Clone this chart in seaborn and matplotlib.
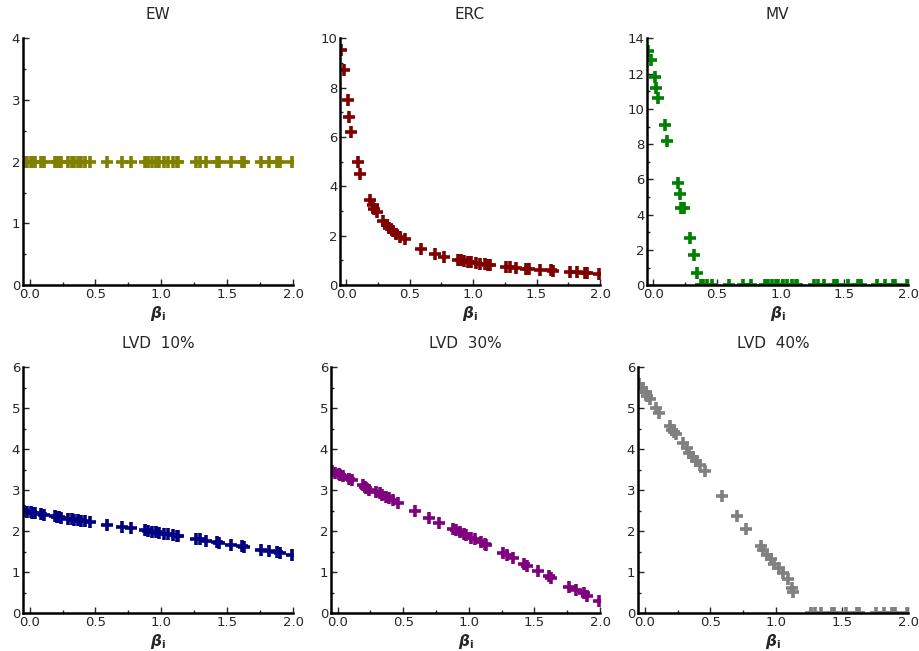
import numpy as np
import pandas as pd
import seaborn as sns
import matplotlib.pyplot as plt
from matplotlib.ticker import MultipleLocator

# betas of the assets (shared by every panel)
beta = [-0.04, -0.02, 0.01, 0.02, 0.04, 0.09, 0.11, 0.19, 0.21, 0.22, 0.24,
        0.29, 0.32, 0.34, 0.37, 0.39, 0.42, 0.46, 0.59, 0.70, 0.77, 0.88,
        0.90, 0.93, 0.96, 0.98, 1.02, 1.05, 1.09, 1.12, 1.13, 1.26, 1.29,
        1.34, 1.42, 1.44, 1.53, 1.61, 1.63, 1.76, 1.82, 1.88, 1.90, 1.99]

ew = [2.0] * 44

erc = [9.55, 8.70, 7.50, 6.80, 6.20, 5.00, 4.50, 3.45, 3.25, 3.10, 2.95,
       2.60, 2.45, 2.30, 2.20, 2.08, 1.95, 1.85, 1.47, 1.25, 1.15, 1.03,
       1.00, 0.98, 0.95, 0.92, 0.90, 0.87, 0.85, 0.83, 0.80, 0.75, 0.73,
       0.71, 0.67, 0.65, 0.62, 0.60, 0.58, 0.53, 0.52, 0.50, 0.49, 0.47]

mv = [13.30, 12.75, 11.80, 11.20, 10.60, 9.10, 8.20, 5.80, 5.15, 4.40, 4.35,
      2.70, 1.70, 0.70, 0, 0, 0, 0, 0, 0, 0, 0,
      0, 0, 0, 0, 0, 0, 0, 0, 0, 0, 0,
      0, 0, 0, 0, 0, 0, 0, 0, 0, 0, 0]

lvd10 = [2.49, 2.48, 2.46, 2.45, 2.44, 2.42, 2.40, 2.36, 2.35, 2.34, 2.33,
         2.31, 2.30, 2.28, 2.27, 2.26, 2.25, 2.23, 2.16, 2.11, 2.07, 2.02,
         2.01, 1.99, 1.97, 1.96, 1.94, 1.92, 1.90, 1.89, 1.88, 1.82, 1.80,
         1.77, 1.73, 1.72, 1.67, 1.63, 1.62, 1.55, 1.52, 1.49, 1.48, 1.43]

lvd30 = [3.46, 3.43, 3.40, 3.37, 3.34, 3.28, 3.24, 3.12, 3.08, 3.05, 3.01,
         2.96, 2.92, 2.88, 2.84, 2.80, 2.76, 2.70, 2.50, 2.32, 2.21, 2.05,
         2.02, 1.97, 1.93, 1.90, 1.84, 1.80, 1.74, 1.70, 1.66, 1.48, 1.42,
         1.35, 1.20, 1.16, 1.02, 0.90, 0.86, 0.65, 0.57, 0.49, 0.43, 0.29]

lvd40 = [5.58, 5.50, 5.40, 5.30, 5.22, 5.00, 4.88, 4.56, 4.48, 4.42, 4.36,
         4.15, 4.03, 3.90, 3.80, 3.72, 3.62, 3.47, 2.87, 2.38, 2.05, 1.63,
         1.55, 1.43, 1.32, 1.20, 1.10, 0.98, 0.83, 0.62, 0.52, 0, 0,
         0, 0, 0, 0, 0, 0, 0, 0, 0, 0, 0]

titles = ["EW", "ERC", "MV", "LVD  10%", "LVD  30%", "LVD  40%"]
series = [ew, erc, mv, lvd10, lvd30, lvd40]
colors = ["#808000", "#800000", "#008000", "#000080", "#800080", "#808080"]
ymax = [4, 10, 14, 6, 6, 6]
ystep = [1, 2, 2, 1, 1, 1]

# axes boxes [left, bottom, width, height] in figure fractions
boxes = [[0.025, 0.562, 0.2935, 0.379],
         [0.3696, 0.562, 0.2826, 0.379],
         [0.7033, 0.562, 0.2837, 0.379],
         [0.025, 0.058, 0.2935, 0.378],
         [0.3598, 0.058, 0.2924, 0.378],
         [0.6935, 0.058, 0.2935, 0.378]]

sns.set_style("white")
plt.rcParams['font.family'] = ['DejaVu Sans']

fig = plt.figure(figsize=(9.2, 6.51), dpi=100)

for i in range(6):
    ax = fig.add_axes(boxes[i])
    df = pd.DataFrame({"beta": beta, "w": series[i]})
    sns.scatterplot(data=df, x="beta", y="w", marker="+", s=70,
                    color=colors[i], linewidth=2.6, ax=ax)
    ax.set_xlim(-0.05, 2.0)
    ax.set_ylim(0, ymax[i])
    ax.xaxis.set_major_locator(MultipleLocator(0.5))
    ax.xaxis.set_minor_locator(MultipleLocator(0.25))
    ax.yaxis.set_major_locator(MultipleLocator(ystep[i]))
    ax.yaxis.set_minor_locator(MultipleLocator(ystep[i] / 2))
    ax.xaxis.set_major_formatter(plt.FormatStrFormatter('%.1f'))
    ax.tick_params(which='major', direction='in', length=4, width=1,
                   labelsize=9.5, pad=2)
    ax.tick_params(which='minor', direction='in', length=2.5, width=1)
    ax.tick_params(axis='both', which='both', left=True, bottom=True)
    for s in ['top', 'right']:
        ax.spines[s].set_visible(False)
    for s in ['left', 'bottom']:
        ax.spines[s].set_linewidth(1.8)
        ax.spines[s].set_color('black')
    ax.set_title(titles[i], fontsize=11, pad=14)
    ax.set_xlabel(r'$\boldsymbol{\beta}_\mathbf{i}$', fontsize=11, labelpad=2)
    ax.set_ylabel('')

plt.savefig("out.png", dpi=100)
